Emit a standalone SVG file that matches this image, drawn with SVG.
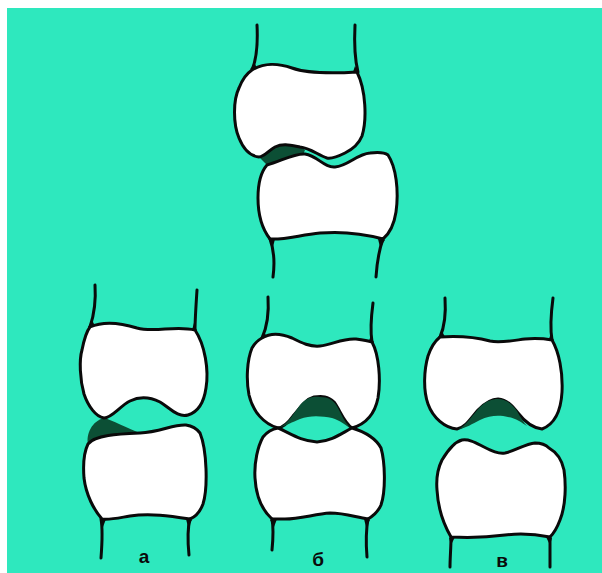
<svg xmlns="http://www.w3.org/2000/svg" width="602" height="573" viewBox="0 0 602 573">
  <style>
    .bone { fill: #ffffff; stroke: #0a0a0a; stroke-width: 3; stroke-linejoin: round; }
    .shaft { fill: none; stroke: #0a0a0a; stroke-width: 3; stroke-linecap: round; }
    .cart { fill: #0c4f35; stroke: none; }
    .fillet { fill: #0a0a0a; }
    .label { font-family: "Liberation Sans", Arial, sans-serif; font-weight: bold; font-size: 19px; fill: #0a0a0a; text-anchor: middle; }
  </style>
  <rect x="0" y="0" width="602" height="573" fill="#ffffff"/>
  <rect x="7" y="8" width="595" height="565" fill="#2ee8be"/>

  <!-- Joint at top: displaced, cartilage worn on one side -->
  <g id="joint-top">
    <path class="shaft" d="M257,25 C258,45 257,58 252,70"/>
    <path class="shaft" d="M355,25 C354,45 355,60 358,72"/>
    <path class="cart" d="M259,157 C267,150 276,142 285,143 C293,144 300,146 305,150 L303,155 C295,154 285,159 267,165 Z"/>
    <path class="bone" d="M252,70 C263,63 278,63 292,68 C306,73 325,74 357,72 C366,90 367,120 362,136 C358,146 351,150 345,153 C339,156 332,159 327,158 C318,155 310,148 300,147 C290,145 283,143 275,147 C268,151 264,157 259,157 C250,156 243,148 239,138 C233,124 233,100 239,88 C242,80 246,74 252,70 Z"/>
    <path class="bone" d="M267,165 C281,161 295,153 305,154 C318,156 324,168 335,167 C348,166 357,154 370,153 C378,152 384,152 388,155 C396,167 399,190 396,212 C394,225 389,234 383,239 C365,234 345,231 320,233 C300,235 285,240 270,239 C263,230 258,215 258,198 C258,185 260,173 267,165 Z"/>
    <path class="shaft" d="M270,239 C274,250 275,262 273,277"/>
    <path class="shaft" d="M383,239 C379,250 377,262 376,277"/>
    <path class="fillet" d="M250,69 L255,64 L257,68 Z"/>
    <path class="fillet" d="M359,73 L355,66 L353,72 Z"/>
    <path class="fillet" d="M269,240 L273,247 L275,239 Z"/>
    <path class="fillet" d="M385,240 L380,247 L378,239 Z"/>
  </g>

  <!-- Joint a -->
  <g id="joint-a">
    <path class="shaft" d="M95,285 C96,300 94,315 90,327"/>
    <path class="shaft" d="M197,290 C196,305 195,320 195,330"/>
    <path class="cart" d="M104,418 C112,420 126,428 143,434 L120,434 C106,434 96,437 88,444 C86,434 92,421 104,418 Z"/>
    <path class="bone" d="M90,327 C101,322 118,322 137,328 C155,333 175,325 195,330 C205,345 209,370 206,388 C204,402 198,412 188,415 C178,418 170,408 160,402 C150,397 140,396 130,401 C120,406 112,418 104,418 C96,417 88,406 84,394 C80,380 79,360 82,350 C84,340 86,332 90,327 Z"/>
    <path class="bone" d="M88,444 C95,435 118,434 140,433 C160,432 174,424 186,425 C193,426 197,429 200,433 C207,450 208,488 203,504 C200,512 195,517 190,519 C170,516 150,513 130,516 C118,518 110,520 102,519 C94,510 86,495 84,478 C83,465 84,452 88,444 Z"/>
    <path class="shaft" d="M101,519 C103,530 102,545 101,558"/>
    <path class="shaft" d="M190,519 C187,530 188,545 189,555"/>
    <path class="fillet" d="M88,327 L92,320 L95,326 Z"/>
    <path class="fillet" d="M197,331 L194,323 L192,330 Z"/>
    <path class="fillet" d="M100,520 L103,527 L106,519 Z"/>
    <path class="fillet" d="M192,520 L188,527 L186,519 Z"/>
    <text class="label" x="144" y="563">а</text>
  </g>

  <!-- Joint б -->
  <g id="joint-b">
    <path class="shaft" d="M268,297 C269,312 267,327 262,338"/>
    <path class="shaft" d="M373,303 C371,318 370,330 372,342"/>
    <path class="bone" d="M262,338 C270,333 280,333 292,338 C302,343 310,347 320,346 C332,345 342,338 356,339 C364,340 369,341 372,342 C379,355 381,380 378,398 C375,413 366,424 352,428 C344,423 340,410 334,402 C328,396 322,396 314,397 C306,399 300,408 293,416 C288,423 284,427 278,428 C264,424 253,412 249,395 C246,380 247,360 252,348 C255,343 258,340 262,338 Z"/>
    <path class="cart" d="M280,427 C288,424 293,414 300,405 C306,398 312,396 320,397 C328,397 334,400 338,408 C343,418 346,424 351,428 C346,426 340,420 332,418 C322,416 310,415 300,419 C292,422 286,426 280,427 Z"/>
    <path class="bone" d="M278,428 C290,433 300,441 317,442 C332,441 342,433 352,428 C362,431 375,437 381,448 C385,462 386,490 381,505 C378,512 373,516 368,519 C355,517 345,513 330,513 C315,514 300,519 285,519 C280,519 276,519 272,519 C262,510 256,495 255,478 C254,462 258,446 263,437 C267,432 272,429 278,428 Z"/>
    <path class="shaft" d="M272,519 C274,530 273,540 272,550"/>
    <path class="shaft" d="M368,519 C366,530 366,545 367,557"/>
    <path class="fillet" d="M260,339 L264,332 L267,337 Z"/>
    <path class="fillet" d="M374,343 L371,335 L369,341 Z"/>
    <path class="fillet" d="M270,520 L274,527 L277,519 Z"/>
    <path class="fillet" d="M370,520 L366,527 L364,519 Z"/>
    <text class="label" x="318" y="566">б</text>
  </g>

  <!-- Joint в -->
  <g id="joint-v">
    <path class="shaft" d="M445,298 C446,313 444,328 440,337"/>
    <path class="shaft" d="M553,298 C551,313 550,328 552,340"/>
    <path class="bone" d="M440,337 C455,336 475,337 490,341 C500,343 510,341 525,339 C538,338 546,339 552,340 C559,352 563,372 562,392 C561,410 555,424 542,429 C533,428 525,422 518,413 C512,405 507,400 498,399 C490,399 484,404 478,410 C471,418 466,427 457,429 C445,428 433,418 428,404 C423,390 424,370 428,356 C431,347 435,341 440,337 Z"/>
    <path class="cart" d="M459,429 C466,425 472,416 480,407 C486,401 492,399 498,399 C506,399 512,404 517,411 C521,418 524,423 527,426 C522,423 516,418 508,417 C500,415 490,415 480,420 C472,424 466,428 459,429 Z"/>
    <path class="bone" d="M442,460 C448,450 454,442 462,440 C470,439 476,443 484,447 C492,451 498,454 505,453 C515,451 525,444 535,443 C541,443 546,445 549,448 C556,452 562,460 564,470 C566,484 566,505 560,520 C557,528 553,534 550,537 C535,534 520,533 505,535 C490,537 470,538 451,537 C444,525 438,508 437,490 C436,478 438,468 442,460 Z"/>
    <path class="shaft" d="M451,537 C451,548 450,558 450,567"/>
    <path class="shaft" d="M550,537 C550,548 550,558 550,567"/>
    <path class="fillet" d="M438,338 L442,331 L445,337 Z"/>
    <path class="fillet" d="M554,341 L551,333 L549,339 Z"/>
    <path class="fillet" d="M449,538 L451,545 L455,537 Z"/>
    <path class="fillet" d="M552,538 L550,545 L546,537 Z"/>
    <text class="label" x="502" y="567">в</text>
  </g>
</svg>
